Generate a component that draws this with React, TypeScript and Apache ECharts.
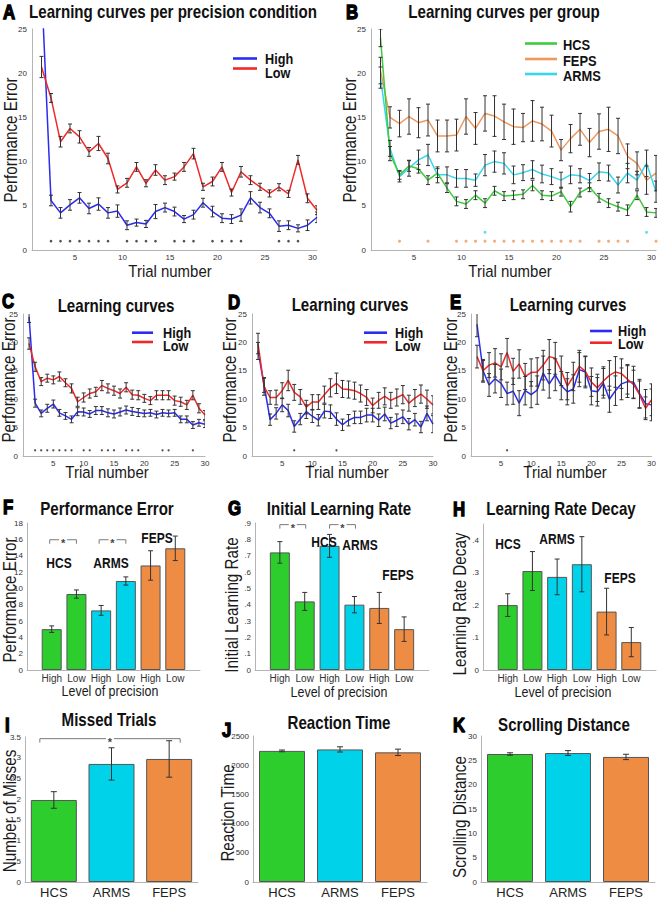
import React, { useEffect, useRef } from 'react';
import * as echarts from 'echarts';

// ---------- DATA ----------
const trials = [1, 2, 3, 4, 5, 6, 7, 8, 9, 10, 11, 12, 13, 14, 15, 16, 17, 18, 19, 20, 21, 22, 23, 24, 25, 26, 27, 28, 29, 30];

// A: per precision condition
const highA = [30, 5.6, 4.2, 5.1, 5.9, 4.7, 5.2, 4.2, 4.4, 2.8, 3.1, 2.95, 4.35, 4.8, 4.35, 3.5, 4.0, 5.35, 4.35, 3.6, 3.5, 3.95, 5.9, 4.8, 4.15, 2.7, 2.8, 2.45, 2.8, 3.7];
const highAErr = [0, 0.6, 0.6, 0.6, 0.6, 0.6, 0.7, 0.6, 0.7, 0.5, 0.4, 0.4, 0.8, 0.5, 0.5, 0.4, 0.5, 0.5, 0.6, 0.5, 0.5, 0.7, 0.7, 0.6, 0.5, 0.6, 0.5, 0.4, 0.6, 0.6];
const lowA = [20.7, 17.2, 12.25, 13.75, 12.8, 11.1, 12.05, 10.35, 6.85, 7.6, 9.4, 7.55, 9.05, 7.9, 8.3, 9.4, 10.9, 7.15, 7.75, 9.4, 6.5, 8.85, 7.9, 7.15, 6.4, 7.1, 6.35, 10.2, 5.85, 4.5];
const lowAErr = [1.2, 0.5, 0.6, 0.5, 0.7, 0.5, 0.8, 0.6, 0.4, 0.5, 0.5, 0.4, 0.6, 0.5, 0.4, 0.5, 0.6, 0.4, 0.5, 0.5, 0.4, 0.6, 0.5, 0.4, 0.4, 0.4, 0.4, 0.5, 0.5, 0.5];
const sigA = [2, 3, 4, 5, 6, 7, 8, 10, 11, 12, 13, 15, 16, 17, 19, 20, 21, 22, 26, 27, 28];

// B: per group
const hcsB = [24.0, 10.9, 8.5, 9.5, 9.2, 7.9, 8.7, 7.0, 5.5, 5.2, 6.2, 5.3, 6.7, 6.1, 6.2, 6.3, 7.3, 6.2, 6.1, 6.6, 4.9, 6.5, 7.1, 5.9, 5.3, 4.9, 4.5, 6.2, 4.3, 4.2];
const hcsBErr = [1.0, 0.8, 0.5, 0.6, 0.5, 0.5, 0.5, 0.5, 0.5, 0.5, 0.5, 0.5, 0.5, 0.5, 0.5, 0.5, 0.6, 0.5, 0.5, 0.5, 0.6, 0.5, 0.5, 0.5, 0.5, 0.5, 0.6, 0.5, 0.5, 0.5];
const fepsB = [20.3, 15.0, 14.3, 15.1, 14.4, 14.7, 12.9, 12.9, 13.0, 15.1, 13.75, 15.45, 15.15, 14.5, 13.95, 13.85, 14.6, 14.25, 13.45, 11.3, 12.6, 13.65, 12.15, 13.4, 13.65, 12.9, 10.6, 9.8, 7.9, 8.7];
const fepsBErr = [1.5, 1.2, 1.5, 2.0, 1.7, 1.8, 1.8, 1.8, 1.8, 2.0, 1.8, 2.0, 2.3, 2.0, 2.0, 1.6, 2.3, 1.9, 1.8, 1.2, 1.6, 1.8, 1.6, 2.0, 2.5, 2.0, 1.4, 1.3, 1.6, 2.0];
const armsB = [19.5, 11.5, 8.3, 9.25, 10.2, 10.75, 8.5, 8.5, 8.1, 8.1, 7.9, 9.6, 10.0, 9.8, 8.5, 8.75, 9.1, 8.6, 8.3, 7.9, 8.5, 8.4, 7.85, 8.85, 8.7, 7.35, 8.7, 7.9, 9.8, 6.6];
const armsBErr = [1.2, 0.9, 0.6, 0.9, 1.1, 1.2, 0.9, 0.9, 1.0, 1.0, 0.7, 1.2, 1.2, 1.2, 1.0, 0.9, 1.0, 1.0, 0.9, 0.9, 1.0, 0.8, 0.8, 1.0, 0.9, 0.9, 1.1, 1.0, 1.5, 1.2];
const sigBFeps = [3, 6, 9, 10, 11, 12, 13, 14, 15, 16, 17, 18, 19, 20, 21, 22, 24, 25, 26, 27, 30];
const sigBArms = [12, 29];

// C: learning curves (HCS)
const highC = [24.5, 9.3, 7.5, 8.4, 9.15, 7.6, 7.05, 6.45, 7.8, 7.75, 7.4, 8.0, 8.0, 7.6, 7.4, 7.75, 8.1, 7.85, 7.65, 7.5, 7.6, 7.3, 7.6, 7.5, 7.6, 6.45, 6.45, 5.45, 5.85, 5.6];
const highCErr = [1.0, 0.7, 0.6, 0.7, 0.7, 0.6, 0.6, 0.6, 0.7, 0.7, 0.6, 0.7, 0.7, 0.7, 0.7, 0.7, 0.7, 0.7, 0.7, 0.6, 0.6, 0.6, 0.6, 0.6, 0.6, 0.6, 0.6, 0.6, 0.6, 0.6];
const lowC = [19.8, 15.7, 13.1, 13.7, 13.4, 14.0, 12.9, 11.9, 9.55, 10.3, 11.0, 11.3, 12.4, 11.9, 11.5, 11.0, 12.1, 10.8, 10.7, 10.15, 9.75, 10.7, 10.7, 10.7, 9.75, 9.55, 9.0, 10.7, 8.4, 7.2];
const lowCErr = [1.0, 0.8, 0.7, 0.7, 0.7, 0.8, 0.7, 0.8, 0.8, 0.8, 0.8, 0.8, 0.9, 0.8, 0.8, 0.8, 0.8, 0.8, 0.8, 0.7, 0.7, 0.8, 0.8, 0.8, 0.8, 0.8, 0.8, 0.8, 0.8, 0.8];
const sigC = [2, 3, 4, 5, 6, 7, 8, 10, 11, 13, 14, 15, 17, 18, 19, 23, 24, 28];

// D: learning curves (ARMS)
const highD = [18.5, 12.5, 6.4, 7.5, 9.0, 8.0, 5.2, 6.5, 7.8, 7.0, 6.3, 7.9, 7.8, 6.5, 5.5, 6.3, 6.8, 6.8, 7.2, 7.2, 6.3, 7.4, 5.8, 6.3, 6.9, 5.6, 6.4, 5.1, 7.5, 5.6];
const highDErr = [1.5, 1.3, 1.0, 1.0, 1.2, 1.1, 1.0, 1.0, 1.2, 1.1, 1.0, 1.2, 1.2, 1.1, 1.0, 1.0, 1.1, 1.1, 1.2, 1.2, 1.1, 1.2, 1.0, 1.1, 1.2, 1.0, 1.1, 1.0, 1.3, 1.5];
const lowD = [19.8, 12.2, 10.3, 10.3, 11.5, 13.3, 11.2, 10.4, 8.6, 9.5, 9.5, 10.8, 12.0, 12.8, 11.8, 11.7, 11.5, 11.0, 10.3, 8.9, 9.8, 10.5, 9.8, 10.3, 10.8, 9.3, 10.2, 10.9, 10.0, 9.0];
const lowDErr = [1.8, 1.5, 1.2, 1.3, 1.4, 1.8, 1.4, 1.3, 1.2, 1.3, 1.3, 1.5, 1.6, 1.8, 1.5, 1.5, 1.5, 1.5, 1.4, 1.3, 1.4, 1.5, 1.4, 1.5, 1.6, 1.4, 1.5, 1.6, 1.6, 1.6];
const sigD = [7, 14];

// E: learning curves (FEPS)
const highE = [23.2, 15.0, 12.5, 13.6, 12.8, 11.0, 11.4, 9.3, 11.5, 10.8, 11.6, 14.6, 12.7, 14.3, 12.4, 11.3, 11.8, 15.2, 14.8, 11.5, 11.3, 12.8, 10.0, 11.5, 12.7, 13.1, 13.0, 11.0, 9.2, 9.0];
const highEErr = [2.2, 2.0, 2.0, 2.5, 2.5, 2.0, 2.3, 2.2, 2.5, 2.3, 2.5, 3.0, 2.5, 2.8, 2.5, 2.3, 2.5, 3.0, 2.8, 2.5, 2.5, 2.6, 2.3, 2.6, 2.8, 2.8, 2.8, 2.5, 2.5, 2.8];
const lowE = [17.5, 15.0, 16.0, 16.4, 15.7, 18.2, 14.9, 16.2, 14.0, 14.7, 14.8, 16.0, 17.5, 17.2, 15.0, 12.3, 14.0, 15.8, 14.9, 13.0, 12.0, 13.2, 14.2, 14.8, 14.5, 13.5, 12.6, 10.8, 8.4, 9.9];
const lowEErr = [2.0, 1.8, 2.2, 2.5, 2.3, 2.5, 2.3, 2.5, 2.3, 2.4, 2.5, 2.6, 3.0, 2.8, 2.6, 2.4, 2.5, 2.8, 2.6, 2.5, 2.4, 2.5, 2.6, 2.7, 2.6, 2.6, 2.5, 2.4, 2.0, 2.8];
const sigE = [6];

// F, G, H: per group and precision level
const precisionLevels = ['High', 'Low', 'High', 'Low', 'High', 'Low'];
const precisionGroups = ['HCS', 'HCS', 'ARMS', 'ARMS', 'FEPS', 'FEPS'];
const perfError = [5.0, 9.3, 7.3, 10.9, 12.8, 14.9];
const perfErrorSE = [0.4, 0.5, 0.6, 0.5, 1.8, 1.5];
const initRate = [0.72, 0.42, 0.76, 0.40, 0.38, 0.25];
const initRateSE = [0.066, 0.055, 0.07, 0.05, 0.095, 0.075];
const rateDecay = [0.20, 0.305, 0.287, 0.326, 0.18, 0.086];
const rateDecaySE = [0.035, 0.06, 0.055, 0.085, 0.072, 0.045];

// I, J, K: per group
const groups = ['HCS', 'ARMS', 'FEPS'];
const misses = [1.98, 2.85, 2.97];
const missesSE = [0.2, 0.39, 0.44];
const reactionTime = [2245, 2270, 2220];
const reactionTimeSE = [15, 45, 55];
const scrollDist = [26.3, 26.5, 25.7];
const scrollDistSE = [0.25, 0.5, 0.55];

// ---------- STYLE ----------
const FONT = "'Liberation Sans', Arial, Helvetica, sans-serif";
const NARROW = "'Liberation Sans Narrow', 'Arial Narrow', 'Liberation Sans', Arial, sans-serif";
const BLUE = '#2b2bf2';
const RED = '#f22828';
const L_GREEN = '#3ccc3c';
const L_ORANGE = '#f0975c';
const L_CYAN = '#38d6ec';
const B_GREEN = '#2ccd2c';
const B_CYAN = '#00d2ea';
const B_ORANGE = '#ee8c44';
const GROUP_COLOR: Record<string, string> = { HCS: B_GREEN, ARMS: B_CYAN, FEPS: B_ORANGE };
const ERR = '#333';
const AXIS = '#b4b4b4';
const TICK = '#333';

const grids = [
  { left: 32, top: 29, width: 285, height: 221 }, // A
  { left: 371, top: 29, width: 286, height: 221 }, // B
  { left: 23, top: 314, width: 182, height: 142 }, // C
  { left: 252, top: 314, width: 181, height: 142 }, // D
  { left: 471, top: 314, width: 182, height: 142 }, // E
  { left: 27, top: 523, width: 173, height: 147 }, // F
  { left: 255, top: 523, width: 174, height: 147 }, // G
  { left: 483, top: 524, width: 174, height: 146 }, // H
  { left: 25, top: 737, width: 173, height: 146 }, // I
  { left: 253, top: 736, width: 174, height: 147 }, // J
  { left: 481, top: 736, width: 174, height: 148 }, // K
];

const axisLine = { show: true, onZero: false, lineStyle: { color: AXIS, width: 1 } };
const noTick = { show: false };
const noSplit = { show: false };

function lineX(gi: number, shiftPad: number) {
  return {
    gridIndex: gi, type: 'value', min: 0, max: 30, interval: 5,
    axisLine, axisTick: noTick, splitLine: noSplit,
    axisLabel: {
      fontSize: 8, color: TICK, fontFamily: NARROW, margin: 3, padding: [0, shiftPad, 0, 0],
      formatter: (v: number) => (v === 0 ? '' : String(v)),
    },
  };
}
function lineY(gi: number) {
  return {
    gridIndex: gi, type: 'value', min: 0, max: 25, interval: 5,
    axisLine, axisTick: noTick, splitLine: noSplit,
    axisLabel: { fontSize: 8, color: TICK, fontFamily: NARROW, margin: 5 },
  };
}
function precX(gi: number) {
  return {
    gridIndex: gi, type: 'value', min: 0, max: 7, interval: 1,
    axisLine, axisTick: noTick, splitLine: noSplit,
    axisLabel: { fontSize: 10, color: TICK, fontFamily: FONT, margin: 3, formatter: (v: number) => precisionLevels[v - 1] ?? '' },
  };
}
function groupX(gi: number) {
  return {
    gridIndex: gi, type: 'category', data: groups, boundaryGap: true,
    axisLine, axisTick: noTick, splitLine: noSplit,
    axisLabel: { fontSize: 13, color: '#222', fontFamily: NARROW, margin: 4 },
  };
}
function valY(gi: number, max: number, interval: number, formatter?: (v: number) => string) {
  return {
    gridIndex: gi, type: 'value', min: 0, max, interval,
    axisLine, axisTick: noTick, splitLine: noSplit,
    axisLabel: { fontSize: 8, color: TICK, fontFamily: NARROW, margin: 4, formatter: formatter ?? ((v: number) => String(v)) },
  };
}
const tenthFmt = (v: number) => {
  const k = Math.round(v * 10);
  if (Math.abs(v * 10 - k) > 1e-6) return '';
  return k === 0 ? '0' : '.' + k;
};
const halfFmt = (v: number) => (v === 0 ? '0' : v < 1 ? String(v).replace('0.', '.') : String(v));

function errorBars(ai: number, data: number[][], cap: number, z = 5) {
  return {
    type: 'custom', xAxisIndex: ai, yAxisIndex: ai, data, z, silent: true, clip: true,
    encode: { x: 0, y: [1, 2] },
    renderItem: (_p: any, api: any) => {
      const x = api.value(0);
      const top = api.coord([x, api.value(2)]);
      const bot = api.coord([x, api.value(1)]);
      const st = { stroke: ERR, lineWidth: 1 };
      return {
        type: 'group',
        children: [
          { type: 'line', shape: { x1: top[0], y1: top[1], x2: bot[0], y2: bot[1] }, style: st },
          { type: 'line', shape: { x1: top[0] - cap, y1: top[1], x2: top[0] + cap, y2: top[1] }, style: st },
          { type: 'line', shape: { x1: bot[0] - cap, y1: bot[1], x2: bot[0] + cap, y2: bot[1] }, style: st },
        ],
      };
    },
  };
}

function brackets(ai: number, data: number[][], extL: number, extR: number) {
  return {
    type: 'custom', xAxisIndex: ai, yAxisIndex: ai, data, z: 6, silent: true, clip: false,
    encode: { x: [0, 1], y: 2 },
    renderItem: (_p: any, api: any) => {
      const a = api.coord([api.value(0), api.value(2)]);
      const b = api.coord([api.value(1), api.value(2)]);
      const x1 = a[0] - extL;
      const x2 = b[0] + extR;
      const y = a[1];
      const mid = (x1 + x2) / 2;
      const st = { stroke: '#7a7a7a', lineWidth: 1 };
      return {
        type: 'group',
        children: [
          { type: 'line', shape: { x1, y1: y + 4, x2: x1, y2: y }, style: st },
          { type: 'line', shape: { x1, y1: y, x2: mid - 4, y2: y }, style: st },
          { type: 'line', shape: { x1: mid + 4, y1: y, x2, y2: y }, style: st },
          { type: 'line', shape: { x1: x2, y1: y, x2, y2: y + 4 }, style: st },
          {
            type: 'text', x: mid, y: y + 3,
            style: { text: '*', fill: '#444', fontSize: 11, fontFamily: FONT, fontWeight: 'bold', align: 'center', textAlign: 'center', verticalAlign: 'middle', textVerticalAlign: 'middle' },
          },
        ],
      };
    },
  };
}

function lineSeries(ai: number, values: number[], color: string) {
  return {
    type: 'line', xAxisIndex: ai, yAxisIndex: ai, symbol: 'none', silent: true, clip: true, z: 2,
    data: trials.map((t, i) => [t, values[i]]),
    lineStyle: { color, width: 1.5 }, itemStyle: { color },
  };
}
function lineErr(ai: number, values: number[], err: number[]) {
  const d = trials.map((t, i) => [t, values[i] - err[i], values[i] + err[i]]).filter((_, i) => err[i] > 0);
  return errorBars(ai, d, 2);
}
function dots(ai: number, ts: number[], y: number, color: string, size: number) {
  return {
    type: 'scatter', xAxisIndex: ai, yAxisIndex: ai, silent: true, z: 4,
    data: ts.map((t) => [t, y]), symbolSize: size, itemStyle: { color },
  };
}
function precBars(ai: number, values: number[], se: number[]) {
  return [
    {
      type: 'bar', xAxisIndex: ai, yAxisIndex: ai, barWidth: 20, silent: true, z: 2,
      itemStyle: { borderColor: '#555', borderWidth: 1 },
      data: values.map((v, i) => ({ value: [i + 1, v], itemStyle: { color: GROUP_COLOR[precisionGroups[i]] } })),
    },
    errorBars(ai, values.map((v, i) => [i + 1, v - se[i], v + se[i]]), 2.5),
  ];
}
function groupBars(ai: number, values: number[], se: number[]) {
  return [
    {
      type: 'bar', xAxisIndex: ai, yAxisIndex: ai, barWidth: 46, silent: true, z: 2,
      itemStyle: { borderColor: '#555', borderWidth: 1 },
      data: values.map((v, i) => ({ value: v, itemStyle: { color: GROUP_COLOR[groups[i]] } })),
    },
    errorBars(ai, values.map((v, i) => [i, v - se[i], v + se[i]]), 3),
  ];
}

// ---------- TEXT (graphic) ----------
function txt(text: string, x: number, y: number, o: any = {}) {
  const align = o.align ?? 'center';
  return {
    type: 'text', x, y, rotation: o.rot ?? 0, scaleX: o.sx ?? 0.84, z: 100, silent: true,
    style: {
      text, fontSize: o.size ?? 18, fontWeight: o.weight ?? 'normal', fontFamily: FONT, fill: o.color ?? '#111',
      align, textAlign: align, verticalAlign: 'middle', textVerticalAlign: 'middle',
      stroke: o.stroke, lineWidth: o.lw ?? 0,
    },
  };
}
function legendLine(x1: number, x2: number, y: number, color: string) {
  return { type: 'line', z: 100, silent: true, shape: { x1, y1: y, x2, y2: y }, style: { stroke: color, lineWidth: 2.6 } };
}

function buildGraphic() {
  const g: any[] = [];
  const letters: [string, number, number][] = [
    ['A', 3, 12], ['B', 346, 12], ['C', 2, 301], ['D', 228, 302], ['E', 450, 302],
    ['F', 3, 507], ['G', 228, 508], ['H', 453, 509], ['I', 5, 725], ['J', 222, 730], ['K', 453, 725],
  ];
  letters.forEach(([t, x, y]) => g.push(txt(t, x, y, { size: 21, weight: 'bold', sx: 0.8, align: 'left', color: '#000', stroke: '#000', lw: 1.4 })));

  const titles: [string, number, number][] = [
    ['Learning curves per precision condition', 173, 12],
    ['Learning curves per group', 504, 12],
    ['Learning curves', 116, 306], ['Learning curves', 350, 305], ['Learning curves', 568, 305],
    ['Performance Error', 107, 509], ['Initial Learning Rate', 339, 509], ['Learning Rate Decay', 561, 509],
    ['Missed Trials', 109, 720], ['Reaction Time', 339, 723], ['Scrolling Distance', 564, 725],
  ];
  titles.forEach(([t, x, y]) => g.push(txt(t, x, y, { size: 18, weight: 'bold', sx: 0.84 })));

  const yNames: [string, number, number][] = [
    ['Performance Error', 11, 140], ['Performance Error', 350, 140],
    ['Performance Error', 9, 380], ['Performance Error', 230, 380], ['Performance Error', 451, 380],
    ['Performance Error', 10, 600], ['Initial Learning Rate', 232, 605], ['Learning Rate Decay', 460, 604],
    ['Number of Misses', 10, 811], ['Reaction Time', 228, 813], ['Scrolling Distance', 460, 817],
  ];
  yNames.forEach(([t, x, y]) => g.push(txt(t, x, y, { size: 17.5, sx: 0.87, rot: Math.PI / 2, color: '#1a1a1a' })));

  const xNames: [string, number, number, number, number][] = [
    ['Trial number', 170, 271, 17, 0.88], ['Trial number', 510, 271, 17, 0.88],
    ['Trial number', 107, 472, 17, 0.88], ['Trial number', 347, 472, 17, 0.88], ['Trial number', 565, 472, 17, 0.88],
    ['Level of precision', 110, 691, 15, 0.83], ['Level of precision', 339, 692, 15, 0.83], ['Level of precision', 563, 692, 15, 0.83],
  ];
  xNames.forEach(([t, x, y, s, sx]) => g.push(txt(t, x, y, { size: s, sx, color: '#1a1a1a' })));

  // legends
  const hl = (x1: number, x2: number, yH: number, yL: number, tx: number, tyH: number, tyL: number, size: number) => {
    g.push(legendLine(x1, x2, yH, BLUE), legendLine(x1, x2, yL, RED));
    g.push(txt('High', tx, tyH, { size, weight: 'bold', sx: 0.82, align: 'left' }));
    g.push(txt('Low', tx, tyL, { size, weight: 'bold', sx: 0.82, align: 'left' }));
  };
  hl(233, 257, 58.5, 68.5, 265, 59, 73, 15.5);
  hl(132, 153, 332.7, 342, 163, 332.5, 346, 15.5);
  hl(364, 387, 332.7, 342.3, 395, 332.5, 346, 15.5);
  hl(590, 612, 331, 342.7, 618, 331, 343.5, 15.5);

  g.push(legendLine(525, 557, 43.5, L_GREEN), legendLine(525, 557, 59, L_ORANGE), legendLine(525, 557, 74, L_CYAN));
  g.push(txt('HCS', 563, 45.5, { size: 14, weight: 'bold', sx: 0.92, align: 'left' }));
  g.push(txt('FEPS', 563, 61.5, { size: 14, weight: 'bold', sx: 0.92, align: 'left' }));
  g.push(txt('ARMS', 563, 76, { size: 14, weight: 'bold', sx: 0.92, align: 'left' }));

  // group labels in F, G, H
  const gl: [string, number, number][] = [
    ['HCS', 59, 563], ['ARMS', 111, 563], ['FEPS', 157, 538],
    ['HCS', 324, 542], ['ARMS', 360, 545], ['FEPS', 398, 575],
    ['HCS', 508, 544], ['ARMS', 557, 539], ['FEPS', 620, 578],
  ];
  gl.forEach(([t, x, y]) => g.push(txt(t, x, y, { size: 15, weight: 'bold', sx: 0.8 })));
  return g;
}

function buildOption() {
  const xAxis: any[] = [];
  const yAxis: any[] = [];
  const pads = [9, 9, 0, 0, 0];
  for (let i = 0; i < 5; i++) { xAxis.push(lineX(i, pads[i])); yAxis.push(lineY(i)); }
  xAxis.push(precX(5)); yAxis.push(valY(5, 18, 2));
  xAxis.push(precX(6)); yAxis.push(valY(6, 0.9, 0.1, tenthFmt));
  xAxis.push(precX(7)); yAxis.push(valY(7, 0.45, 0.1, tenthFmt));
  xAxis.push(groupX(8)); yAxis.push(valY(8, 3.5, 0.5, halfFmt));
  xAxis.push(groupX(9)); yAxis.push(valY(9, 2500, 500));
  xAxis.push(groupX(10)); yAxis.push(valY(10, 30, 5));

  const series: any[] = [];
  // A
  series.push(lineSeries(0, highA, BLUE), lineSeries(0, lowA, RED));
  series.push(lineErr(0, highA, highAErr), lineErr(0, lowA, lowAErr));
  series.push(dots(0, sigA, 1, '#222', 2.6));
  // B
  series.push(lineSeries(1, fepsB, L_ORANGE), lineSeries(1, armsB, L_CYAN), lineSeries(1, hcsB, L_GREEN));
  series.push(lineErr(1, fepsB, fepsBErr), lineErr(1, armsB, armsBErr), lineErr(1, hcsB, hcsBErr));
  series.push(dots(1, sigBFeps, 1, L_ORANGE, 3), dots(1, sigBArms, 2, L_CYAN, 3));
  // C, D, E
  const cde: [number[], number[], number[], number[], number[]][] = [
    [highC, highCErr, lowC, lowCErr, sigC],
    [highD, highDErr, lowD, lowDErr, sigD],
    [highE, highEErr, lowE, lowEErr, sigE],
  ];
  cde.forEach(([h, he, l, le, s], k) => {
    const ai = 2 + k;
    series.push(lineSeries(ai, h, BLUE), lineSeries(ai, l, RED));
    series.push(lineErr(ai, h, he), lineErr(ai, l, le));
    series.push(dots(ai, s, 1, '#222', 2.2));
  });
  // F, G, H
  series.push(...precBars(5, perfError, perfErrorSE));
  series.push(brackets(5, [[1, 2, 15.95], [3, 4, 15.95]], 2, 0));
  series.push(...precBars(6, initRate, initRateSE));
  series.push(brackets(6, [[1, 2, 0.89], [3, 4, 0.89]], 0, 1));
  series.push(...precBars(7, rateDecay, rateDecaySE));
  // I, J, K
  series.push(...groupBars(8, misses, missesSE));
  series.push(brackets(8, [[0, 2, 3.46]], 14, 11));
  series.push(...groupBars(9, reactionTime, reactionTimeSE));
  series.push(...groupBars(10, scrollDist, scrollDistSE));

  return {
    animation: false,
    backgroundColor: '#ffffff',
    grid: grids.map((g) => ({ ...g, containLabel: false })),
    xAxis,
    yAxis,
    series,
    graphic: buildGraphic(),
  };
}

export default function App() {
  const ref = useRef<HTMLDivElement>(null);
  useEffect(() => {
    if (!ref.current) return;
    const chart = echarts.init(ref.current, null, { renderer: 'svg' });
    chart.setOption(buildOption() as any);
    return () => chart.dispose();
  }, []);
  return (
    <div
      ref={ref}
      style={{ position: 'absolute', left: 0, top: 0, width: 659, height: 899, background: '#fff' }}
    />
  );
}
